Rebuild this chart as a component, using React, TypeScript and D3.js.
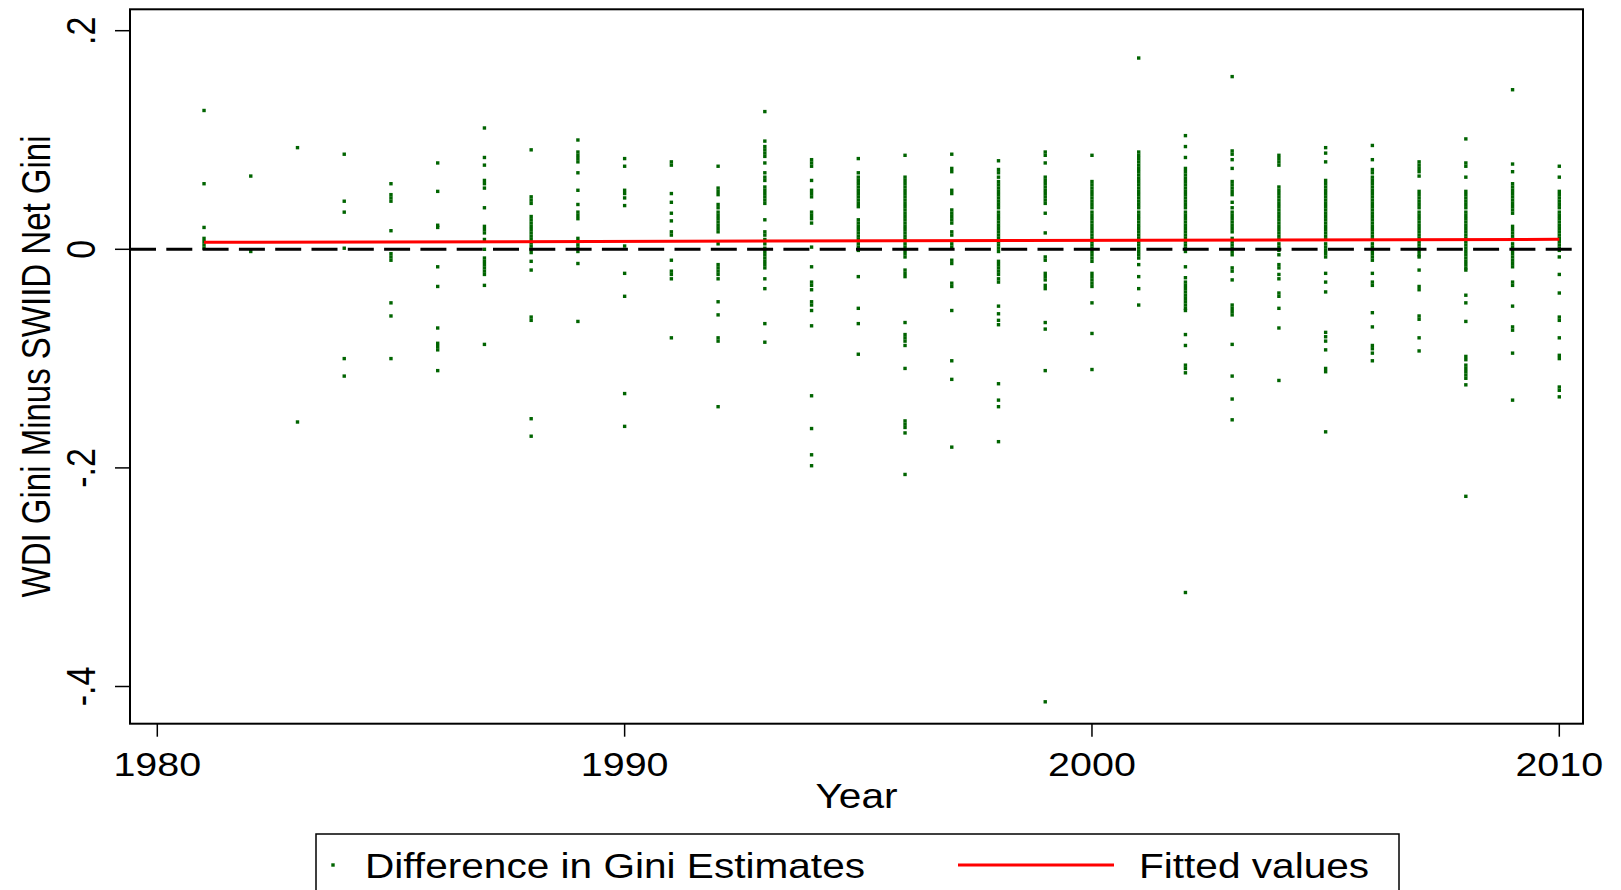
import React from "react";
import * as d3 from "d3";

// ---------- data ----------
const years = [1981, 1982, 1983, 1984, 1985, 1986, 1987, 1988, 1989, 1990, 1991, 1992, 1993, 1994, 1995, 1996, 1997, 1998, 1999, 2000, 2001, 2002, 2003, 2004, 2005, 2006, 2007, 2008, 2009, 2010];

const v1981 = [0.127, 0.060, 0.020, 0.010, 0.007, 0.004, 0.001];
const v1982 = [0.067, -0.002];
const v1983 = [0.093, -0.158];
const v1984 = [0.087, 0.044, 0.034, 0.001, -0.100, -0.116];
const v1985 = [0.060, 0.050, 0.047, 0.044, 0.017, -0.004, -0.007, -0.010, -0.049, -0.061, -0.100];
const v1986 = [0.079, 0.053, 0.022, 0.020, -0.016, -0.034, -0.072, -0.086, -0.089, -0.092, -0.111];
const v1987 = [0.111, 0.084, 0.077, 0.063, 0.060, 0.056, 0.038, 0.021, 0.018, 0.015, 0.009, 0.000, -0.008, -0.011, -0.014, -0.017, -0.020, -0.023, -0.033, -0.087];
const v1988 = [0.091, 0.048, 0.045, 0.042, 0.030, 0.027, 0.024, 0.021, 0.018, 0.015, 0.012, 0.009, 0.006, 0.003, 0.000, -0.003, -0.011, -0.019, -0.062, -0.065, -0.155, -0.171];
const v1989 = [0.100, 0.089, 0.086, 0.083, 0.080, 0.070, 0.054, 0.041, 0.034, 0.031, 0.028, 0.010, 0.007, 0.004, 0.001, -0.002, -0.013, -0.066];
const v1990 = [0.083, 0.076, 0.054, 0.051, 0.047, 0.040, 0.003, -0.022, -0.043, -0.132, -0.162];
const v1991 = [0.080, 0.077, 0.051, 0.043, 0.033, 0.026, 0.016, 0.013, -0.010, -0.020, -0.023, -0.027, -0.081];
const v1992 = [0.076, 0.056, 0.053, 0.050, 0.041, 0.038, 0.034, 0.031, 0.028, 0.025, 0.022, 0.019, 0.016, 0.005, -0.014, -0.017, -0.020, -0.023, -0.027, -0.048, -0.060, -0.081, -0.084, -0.144];
const v1993 = [0.126, 0.099, 0.094, 0.091, 0.088, 0.085, 0.079, 0.070, 0.066, 0.063, 0.057, 0.054, 0.051, 0.048, 0.045, 0.042, 0.027, 0.016, 0.013, 0.009, 0.005, 0.001, -0.002, -0.005, -0.008, -0.011, -0.014, -0.017, -0.027, -0.036, -0.068, -0.085];
const v1994 = [0.082, 0.079, 0.076, 0.063, 0.054, 0.051, 0.048, 0.034, 0.031, 0.028, 0.024, 0.002, -0.016, -0.030, -0.033, -0.037, -0.048, -0.051, -0.056, -0.070, -0.134, -0.164, -0.188, -0.198];
const v1995 = [0.083, 0.070, 0.066, 0.063, 0.060, 0.057, 0.054, 0.051, 0.048, 0.045, 0.042, 0.039, 0.027, 0.024, 0.021, 0.018, 0.015, 0.012, 0.009, 0.005, 0.002, -0.001, -0.025, -0.054, -0.068, -0.096];
const v1996 = [0.086, 0.066, 0.063, 0.060, 0.057, 0.054, 0.051, 0.048, 0.045, 0.042, 0.039, 0.036, 0.033, 0.030, 0.027, 0.024, 0.021, 0.018, 0.015, 0.012, 0.009, 0.005, 0.002, -0.001, -0.004, -0.007, -0.019, -0.022, -0.025, -0.067, -0.078, -0.081, -0.084, -0.088, -0.109, -0.157, -0.160, -0.163, -0.168, -0.206];
const v1997 = [0.087, 0.074, 0.071, 0.054, 0.051, 0.036, 0.033, 0.030, 0.027, 0.024, 0.016, 0.013, 0.005, 0.002, -0.010, -0.013, -0.031, -0.034, -0.056, -0.102, -0.119, -0.181];
const v1998 = [0.081, 0.073, 0.070, 0.066, 0.062, 0.059, 0.056, 0.053, 0.050, 0.047, 0.044, 0.041, 0.038, 0.034, 0.031, 0.028, 0.025, 0.022, 0.019, 0.016, 0.013, 0.010, 0.007, 0.004, 0.001, -0.002, -0.011, -0.014, -0.017, -0.020, -0.023, -0.027, -0.030, -0.052, -0.059, -0.065, -0.069, -0.123, -0.138, -0.144, -0.176];
const v1999 = [0.089, 0.086, 0.079, 0.066, 0.063, 0.060, 0.057, 0.054, 0.051, 0.048, 0.045, 0.042, 0.033, 0.015, -0.007, -0.010, -0.022, -0.025, -0.028, -0.033, -0.036, -0.067, -0.073, -0.111, -0.414];
const v2000 = [0.086, 0.062, 0.059, 0.056, 0.053, 0.050, 0.047, 0.044, 0.041, 0.038, 0.034, 0.031, 0.028, 0.025, 0.022, 0.019, 0.016, 0.013, 0.010, 0.007, 0.004, 0.001, -0.002, -0.005, -0.008, -0.011, -0.022, -0.025, -0.028, -0.031, -0.034, -0.049, -0.077, -0.110];
const v2001 = [0.175, 0.089, 0.086, 0.083, 0.080, 0.077, 0.074, 0.071, 0.068, 0.065, 0.062, 0.059, 0.056, 0.053, 0.050, 0.047, 0.044, 0.041, 0.038, 0.034, 0.031, 0.028, 0.025, 0.022, 0.019, 0.016, 0.013, 0.010, 0.007, 0.004, 0.001, -0.002, -0.005, -0.008, -0.014, -0.025, -0.036, -0.051];
const v2002 = [0.104, 0.094, 0.084, 0.074, 0.071, 0.068, 0.065, 0.062, 0.059, 0.056, 0.053, 0.050, 0.047, 0.044, 0.041, 0.038, 0.034, 0.031, 0.028, 0.025, 0.022, 0.019, 0.016, 0.013, 0.010, 0.007, 0.004, 0.001, -0.002, -0.016, -0.026, -0.030, -0.033, -0.036, -0.039, -0.042, -0.045, -0.048, -0.051, -0.054, -0.056, -0.078, -0.088, -0.106, -0.109, -0.113, -0.314];
const v2003 = [0.158, 0.090, 0.087, 0.082, 0.074, 0.062, 0.059, 0.056, 0.053, 0.050, 0.043, 0.038, 0.034, 0.031, 0.028, 0.025, 0.022, 0.019, 0.016, 0.010, 0.007, 0.004, 0.001, -0.002, -0.005, -0.017, -0.020, -0.028, -0.051, -0.054, -0.057, -0.060, -0.087, -0.116, -0.137, -0.156];
const v2004 = [0.086, 0.083, 0.080, 0.077, 0.057, 0.054, 0.051, 0.048, 0.045, 0.042, 0.039, 0.036, 0.033, 0.030, 0.027, 0.024, 0.021, 0.018, 0.015, 0.012, 0.009, 0.005, 0.002, -0.001, -0.005, -0.014, -0.017, -0.023, -0.027, -0.040, -0.043, -0.054, -0.072, -0.120];
const v2005 = [0.093, 0.088, 0.080, 0.063, 0.060, 0.057, 0.054, 0.051, 0.048, 0.045, 0.042, 0.039, 0.036, 0.033, 0.030, 0.027, 0.024, 0.021, 0.018, 0.015, 0.012, 0.009, 0.005, 0.002, -0.001, -0.004, -0.007, -0.022, -0.030, -0.039, -0.076, -0.080, -0.084, -0.092, -0.109, -0.112, -0.167];
const v2006 = [0.095, 0.082, 0.073, 0.070, 0.066, 0.063, 0.060, 0.057, 0.054, 0.051, 0.048, 0.045, 0.042, 0.039, 0.036, 0.033, 0.030, 0.027, 0.024, 0.021, 0.018, 0.015, 0.012, 0.009, 0.005, 0.002, -0.001, -0.004, -0.007, -0.010, -0.022, -0.030, -0.033, -0.058, -0.071, -0.088, -0.091, -0.095, -0.102];
const v2007 = [0.080, 0.077, 0.074, 0.071, 0.067, 0.053, 0.050, 0.047, 0.044, 0.041, 0.038, 0.034, 0.031, 0.028, 0.025, 0.022, 0.019, 0.016, 0.013, 0.010, 0.007, 0.004, 0.001, -0.002, -0.005, -0.007, -0.019, -0.034, -0.037, -0.061, -0.064, -0.081, -0.093];
const v2008 = [0.101, 0.079, 0.076, 0.066, 0.053, 0.050, 0.047, 0.044, 0.041, 0.038, 0.034, 0.031, 0.028, 0.025, 0.022, 0.019, 0.016, 0.013, 0.010, 0.007, 0.004, 0.001, -0.002, -0.005, -0.008, -0.011, -0.014, -0.017, -0.019, -0.042, -0.049, -0.066, -0.098, -0.101, -0.106, -0.109, -0.112, -0.115, -0.118, -0.124, -0.226];
const v2009 = [0.146, 0.078, 0.071, 0.060, 0.057, 0.054, 0.051, 0.048, 0.045, 0.042, 0.039, 0.036, 0.033, 0.021, 0.018, 0.015, 0.012, 0.009, 0.005, 0.002, -0.001, -0.004, -0.007, -0.010, -0.013, -0.016, -0.030, -0.033, -0.052, -0.071, -0.074, -0.095, -0.138];
const v2010 = [0.076, 0.066, 0.053, 0.050, 0.047, 0.044, 0.041, 0.038, 0.034, 0.031, 0.028, 0.025, 0.022, 0.019, 0.016, 0.013, 0.010, 0.007, 0.004, 0.001, -0.001, -0.007, -0.023, -0.040, -0.062, -0.065, -0.081, -0.097, -0.100, -0.126, -0.129, -0.135];

const valuesByYear = [v1981, v1982, v1983, v1984, v1985, v1986, v1987, v1988, v1989, v1990, v1991, v1992, v1993, v1994, v1995, v1996, v1997, v1998, v1999, v2000, v2001, v2002, v2003, v2004, v2005, v2006, v2007, v2008, v2009, v2010];

const fitYears = [1981, 2010];
const fitValues = [0.0064, 0.0091];

const xTicks = [1980, 1990, 2000, 2010];
const yTicks = [0.2, 0, -0.2, -0.4];
const yTickLabels = [".2", "0", "-.2", "-.4"];

const yTitle = "WDI Gini Minus SWIID Net Gini";
const xTitle = "Year";
const legendLabels = ["Difference in Gini Estimates", "Fitted values"];

// ---------- layout ----------
const W = 1621;
const H = 890;
const frame = { left: 130, right: 1583, top: 9.3, bottom: 723.7 };
const FONT = "'Liberation Sans', Arial, Helvetica, sans-serif";
const GREEN = "#006400";
const RED = "#ff0000";
const MS = 3.4;

export default function App() {
  const x = d3.scaleLinear().domain([1980, 2010]).range([157.3, 1559.3]);
  const y = d3.scaleLinear().domain([-0.4, 0.2]).range([686.5, 30.7]);

  const points: { yr: number; v: number }[] = [];
  years.forEach((yr, i) => valuesByYear[i].forEach((v) => points.push({ yr, v })));

  const fitLine = d3
    .line<number>()
    .x((_, i) => x(fitYears[i]))
    .y((d) => y(d));

  const sx = 1.16;
  const sr = 1.22;

  return (
    <svg
      width={W}
      height={H}
      style={{ position: "absolute", left: 0, top: 0, background: "#fff" }}
      fontFamily={FONT}
    >
      <rect x={0} y={0} width={W} height={H} fill="#fff" />
      {/* points */}
      <g fill={GREEN}>
        {points.map((p, i) => (
          <rect key={i} x={x(p.yr) - MS / 2} y={y(p.v) - MS / 2} width={MS} height={MS} />
        ))}
      </g>
      {/* zero dashed line */}
      <line
        x1={frame.left}
        x2={frame.right}
        y1={y(0)}
        y2={y(0)}
        stroke="#000"
        strokeWidth={3}
        strokeDasharray="26 10.3"
      />
      {/* fitted line */}
      <path d={fitLine(fitValues) || ""} fill="none" stroke={RED} strokeWidth={3} />
      {/* frame */}
      <rect
        x={frame.left}
        y={frame.top}
        width={frame.right - frame.left}
        height={frame.bottom - frame.top}
        fill="none"
        stroke="#000"
        strokeWidth={2}
      />
      {/* y ticks */}
      {yTicks.map((t, i) => (
        <g key={"yt" + i}>
          <line x1={frame.left - 15} x2={frame.left} y1={y(t)} y2={y(t)} stroke="#000" strokeWidth={1.5} />
          <text
            transform={`translate(95,${y(t)}) scale(${sr},1) rotate(-90)`}
            textAnchor="middle"
            fontSize={34}
            fill="#000"
          >
            {yTickLabels[i]}
          </text>
        </g>
      ))}
      {/* x ticks */}
      {xTicks.map((t) => (
        <g key={"xt" + t}>
          <line x1={x(t)} x2={x(t)} y1={frame.bottom} y2={frame.bottom + 13} stroke="#000" strokeWidth={1.5} />
          <text
            transform={`translate(${x(t)},776) scale(${sx},1)`}
            textAnchor="middle"
            fontSize={34}
            fill="#000"
          >
            {t}
          </text>
        </g>
      ))}
      {/* axis titles */}
      <text
        transform={`translate(${(frame.left + frame.right) / 2},808) scale(${sx},1)`}
        textAnchor="middle"
        fontSize={35}
        fill="#000"
      >
        {xTitle}
      </text>
      <text
        transform={`translate(50,${(frame.top + frame.bottom) / 2}) scale(1.25,1) rotate(-90)`}
        textAnchor="middle"
        fontSize={33}
        fill="#000"
      >
        {yTitle}
      </text>
      {/* legend */}
      <rect x={316} y={834} width={1083} height={80} fill="#fff" stroke="#000" strokeWidth={1.5} />
      <rect x={333 - MS / 2} y={865 - MS / 2} width={MS} height={MS} fill={GREEN} />
      <text transform={`translate(365,878) scale(${sx},1)`} fontSize={35} fill="#000">
        {legendLabels[0]}
      </text>
      <line x1={958} x2={1114} y1={865} y2={865} stroke={RED} strokeWidth={3} />
      <text transform={`translate(1139,878) scale(${sx},1)`} fontSize={35} fill="#000">
        {legendLabels[1]}
      </text>
    </svg>
  );
}
